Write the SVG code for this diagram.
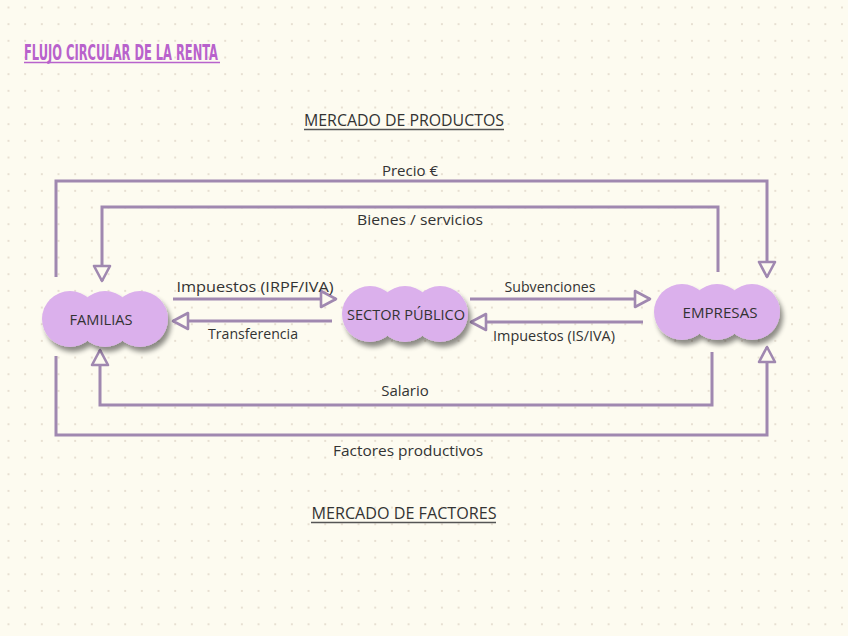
<svg xmlns="http://www.w3.org/2000/svg" width="848" height="636" viewBox="0 0 848 636">
<defs>
<pattern id="dots" x="7.5" y="6.5" width="16.67" height="16.67" patternUnits="userSpaceOnUse">
<circle cx="1" cy="1" r="0.9" fill="#ddd3c4"/>
</pattern>
<filter id="sh" x="-20%" y="-20%" width="150%" height="160%">
<feGaussianBlur in="SourceAlpha" stdDeviation="2.5"/>
<feOffset dx="3" dy="5" result="b"/>
<feComponentTransfer><feFuncA type="linear" slope="0.45"/></feComponentTransfer>
<feMerge><feMergeNode/><feMergeNode in="SourceGraphic"/></feMerge>
</filter>
<marker id="ah" viewBox="0 0 20 20" refX="18" refY="10" markerWidth="20" markerHeight="20" markerUnits="userSpaceOnUse" orient="auto">
<path d="M3,2 L18,10 L3,18 Z" fill="#fdfbf0" stroke="#a088b0" stroke-width="2.6" stroke-linejoin="round"/>
</marker>
<g id="cloud">
<circle cx="-35" cy="0" r="28"/>
<circle cx="0" cy="0" r="28"/>
<circle cx="35" cy="0" r="28"/>
</g>
</defs>
<style>
.ln{fill:none;stroke:#a088b0;stroke-width:3;marker-end:url(#ah)}
.lb{font-family:"Open Sans","DejaVu Sans",sans-serif;font-size:15px;fill:#333;text-anchor:middle}
.nt{font-family:"Open Sans","DejaVu Sans",sans-serif;font-size:14px;fill:#333;text-anchor:middle}
.hd{font-family:"Open Sans","DejaVu Sans",sans-serif;font-size:16px;fill:#333;text-anchor:middle}
.ul{stroke:#555;stroke-width:1.3}
.cl{fill:#dbb0ec}
</style>
<rect width="848" height="636" fill="#fdfbf0"/>
<rect width="848" height="636" fill="url(#dots)"/>

<g id="title">
<text x="24" y="60" font-family="'DejaVu Sans Condensed','DejaVu Sans',sans-serif" font-weight="bold" font-size="21" fill="#b862cc" textLength="194" lengthAdjust="spacingAndGlyphs">FLUJO CIRCULAR DE LA RENTA</text>
<line x1="24" y1="62.5" x2="220" y2="62.5" stroke="#b862cc" stroke-width="1.5"/>
</g>

<g id="headers">
<text class="hd" x="404" y="126" textLength="200" lengthAdjust="spacingAndGlyphs">MERCADO DE PRODUCTOS</text>
<line class="ul" x1="304" y1="129.5" x2="504" y2="129.5"/>
<text class="hd" x="404" y="519" textLength="185" lengthAdjust="spacingAndGlyphs">MERCADO DE FACTORES</text>
<line class="ul" x1="311" y1="522.5" x2="496" y2="522.5"/>
</g>

<g id="connectors">
<polyline class="ln" points="56,277 56,181 767,181 767,277"/>
<polyline class="ln" points="718,272 718,207 102,207 102,281"/>
<polyline class="ln" points="712,352 712,405 100,405 100,350"/>
<polyline class="ln" points="56,356 56,435 767,435 767,347"/>
<line class="ln" x1="173" y1="299" x2="336" y2="299"/>
<line class="ln" x1="332" y1="321" x2="173" y2="321"/>
<line class="ln" x1="470" y1="299" x2="650" y2="299"/>
<line class="ln" x1="643" y1="322" x2="471" y2="322"/>
<text class="lb" x="410" y="176">Precio €</text>
<text class="lb" x="420" y="225" textLength="126" lengthAdjust="spacingAndGlyphs">Bienes / servicios</text>
<text class="lb" x="405" y="396">Salario</text>
<text class="lb" x="408" y="456" textLength="150" lengthAdjust="spacingAndGlyphs">Factores productivos</text>
<text class="lb" x="255" y="292" textLength="157" lengthAdjust="spacingAndGlyphs">Impuestos (IRPF/IVA)</text>
<text class="lb" x="253" y="339" textLength="90" lengthAdjust="spacingAndGlyphs">Transferencia</text>
<text class="lb" x="550" y="292" textLength="91" lengthAdjust="spacingAndGlyphs">Subvenciones</text>
<text class="lb" x="554" y="341" textLength="122" lengthAdjust="spacingAndGlyphs">Impuestos (IS/IVA)</text>
</g>

<g id="familias">
<use href="#cloud" x="105" y="319" class="cl" filter="url(#sh)"/>
<text class="nt" x="101" y="325" textLength="63" lengthAdjust="spacingAndGlyphs">FAMILIAS</text>
</g>
<g id="sector-publico">
<use href="#cloud" x="405" y="314" class="cl" filter="url(#sh)"/>
<text class="nt" x="406" y="320" textLength="118" lengthAdjust="spacingAndGlyphs">SECTOR PÚBLICO</text>
</g>
<g id="empresas">
<use href="#cloud" x="717" y="312" class="cl" filter="url(#sh)"/>
<text class="nt" x="720" y="318" textLength="75" lengthAdjust="spacingAndGlyphs">EMPRESAS</text>
</g>
</svg>
